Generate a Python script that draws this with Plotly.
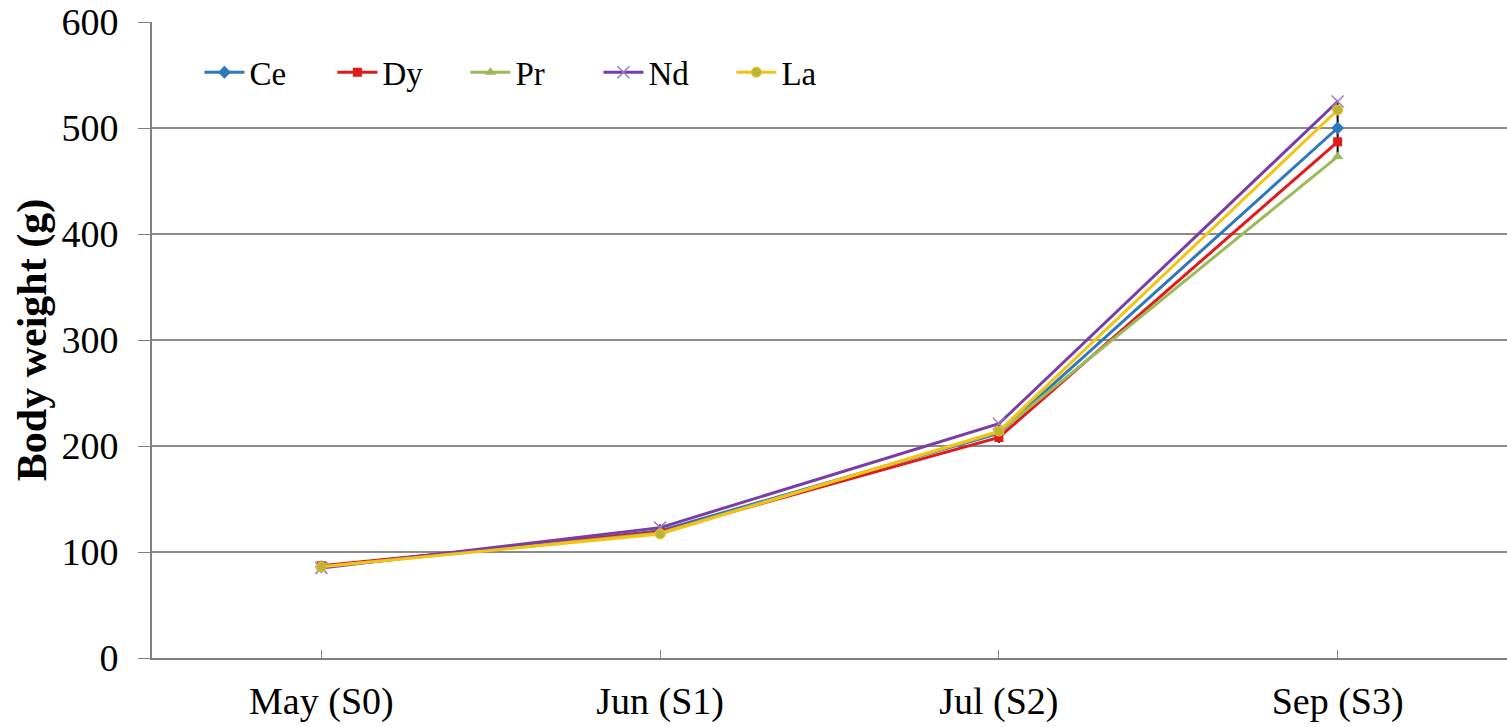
import plotly.graph_objects as go

categories = ["May (S0)", "Jun (S1)", "Jul (S2)", "Sep (S3)"]
ce = [86, 120, 212, 500]
dy = [87, 119, 208, 487]
pr = [86, 118, 213, 473]
nd = [85, 123, 221, 525]
la = [86, 117, 214, 517]
ce_err = [2, 6, 9, 26]

series = [
    ("Ce", ce, "#2E78BE", "diamond", 10),
    ("Dy", dy, "#E31A1C", "square", 9),
    ("Pr", pr, "#9BBB59", "triangle-up", 10),
    ("Nd", nd, "#7A3DA8", "x-thin", 12),
    ("La", la, "#F2C515", "circle", 10),
]

fig = go.Figure()
for name, vals, color, sym, size in series:
    err = None
    if name == "Ce":
        err = dict(type="data", array=ce_err, visible=True, color="black", thickness=2, width=0)
    marker = dict(symbol=sym, size=size, color=color)
    if name == "La":
        marker["color"] = "#BDB53A"
        marker["line"] = dict(color="#F2C515", width=1)
    if name == "Nd":
        marker["line"] = dict(color="#9C7CC4", width=1.5)
    fig.add_trace(go.Scatter(
        x=categories, y=vals, name=name, mode="lines+markers",
        line=dict(color=color, width=3), marker=marker, error_y=err,
    ))

# page body margin removed via post_script; div shifted up by 20px
fig.update_layout(
    width=1507, height=747,
    margin=dict(l=152, r=0, t=42, b=69),
    paper_bgcolor="white", plot_bgcolor="white",
    font=dict(family="Liberation Serif", size=38, color="black"),
    showlegend=True,
    legend=dict(orientation="h", x=0.035, y=0.965, xanchor="left", yanchor="top",
                font=dict(size=33), bgcolor="rgba(0,0,0,0)", itemwidth=40,
                entrywidth=78, entrywidthmode="pixels"),
    xaxis=dict(type="category", range=[-0.5, 3.5], showline=True, linecolor="#808080",
               linewidth=2, ticks="inside", ticklen=8, tickcolor="#808080",
               showgrid=False, tickfont=dict(size=38), ticklabelstandoff=8),
    yaxis=dict(range=[0, 600], tickvals=[0, 100, 200, 300, 400, 500, 600],
               showline=True, linecolor="#808080", linewidth=2,
               ticks="outside", ticklen=12, tickcolor="#808080", gridcolor="#8C8C8C",
               gridwidth=1.5, zeroline=False, tickfont=dict(size=38), ticklabelstandoff=12,
               title=dict(text="<b>Body weight (g)</b>", font=dict(size=42), standoff=2)),
)

post = ("document.body.style.margin='0';"
        "var gd=document.getElementById('{plot_id}');"
        "gd.style.marginTop='-20px';")
fig.write_html("out.html", post_script=post, config={"displayModeBar": False})
